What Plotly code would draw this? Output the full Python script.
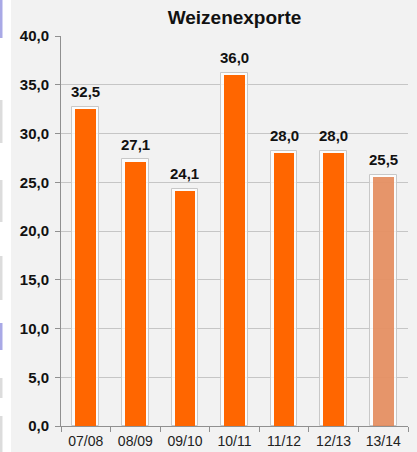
import plotly.graph_objects as go

categories = ["07/08", "08/09", "09/10", "10/11", "11/12", "12/13", "13/14"]
values = [32.5, 27.1, 24.1, 36.0, 28.0, 28.0, 25.5]
bar_colors = ["#ff6600"] * 6 + ["rgba(226,130,80,0.85)"]
y_ticks = [0, 5, 10, 15, 20, 25, 30, 35, 40]

FONT = "Liberation Sans, Arial, sans-serif"
W, H = 417, 452
ML, MR, MT, MB = 61, 9, 36, 26
plot_h = H - MT - MB
pad = 2.5 * 40 / plot_h  # outline halo in data units

fig = go.Figure()
# halo / outline behind the bars
fig.add_trace(go.Bar(
    x=categories, y=[v + pad for v in values], width=0.54,
    marker=dict(color="rgba(255,255,255,0.75)", line=dict(color="#c8c8c8", width=1)),
    hoverinfo="skip", showlegend=False,
))
fig.add_trace(go.Bar(
    x=categories, y=values, width=0.42,
    marker=dict(color=bar_colors, line=dict(width=0)),
    showlegend=False,
))

for c, v in zip(categories, values):
    fig.add_annotation(
        x=c, y=v, text=f"{v:.1f}".replace(".", ","), showarrow=False,
        yanchor="bottom", yshift=7,
        font=dict(family=FONT, size=15, color="#111", weight="bold"),
    )

shapes = [
    dict(type="rect", xref="paper", yref="paper", xsizemode="pixel", ysizemode="pixel",
         xanchor=0, yanchor=0, x0=-ML, x1=-ML + 11, y0=-MB, y1=plot_h + MT,
         fillcolor="white", line=dict(width=0), layer="above"),
]
# small cut-off artifacts at left edge (pixel rows from top)
for top, bot, col in [(0, 38, "#a9a9e6"), (100, 143, "#dcdcdc"), (180, 222, "#dcdcdc"),
                      (256, 300, "#dcdcdc"), (323, 350, "#a9a9e6"), (378, 398, "#dcdcdc"),
                      (416, 452, "#dcdcdc")]:
    shapes.append(dict(type="rect", xref="paper", yref="paper", xsizemode="pixel",
                       ysizemode="pixel", xanchor=0, yanchor=0,
                       x0=-ML, x1=-ML + 2.5, y0=(H - MB) - bot, y1=(H - MB) - top,
                       fillcolor=col, line=dict(width=0), layer="above"))

fig.update_layout(
    width=W, height=H,
    margin=dict(l=ML, r=MR, t=MT, b=MB, autoexpand=False),
    paper_bgcolor="#f2f2f2", plot_bgcolor="#f2f2f2",
    barmode="overlay",
    separators=",.",
    bargap=0,
    title=dict(text="Weizenexporte", x=(ML + (W - MR - ML) / 2) / W, xanchor="center",
               y=1 - 17 / H, yanchor="middle", automargin=False,
               font=dict(family=FONT, size=19, color="#111", weight="bold")),
    font=dict(family=FONT, color="#111"),
    shapes=shapes,
    xaxis=dict(
        type="category", showgrid=False, showline=True, linecolor="#909090", linewidth=1,
        ticks="outside", tickson="boundaries", ticklen=5, tickcolor="#909090",
        tickfont=dict(family=FONT, size=14, color="#222"), ticklabelstandoff=2,
        fixedrange=True, automargin=False,
    ),
    yaxis=dict(
        range=[0, 40], tickvals=y_ticks, tickformat=".1f",
        showgrid=True, gridcolor="#c6c6c6", gridwidth=1,
        showline=True, linecolor="#909090", linewidth=1,
        ticks="outside", ticklen=5, tickcolor="#909090",
        tickfont=dict(family=FONT, size=15, color="#111", weight="bold"),
        ticklabelstandoff=3,
        zeroline=False, fixedrange=True, automargin=False,
    ),
)

fig.write_html(
    "out.html",
    config={"displayModeBar": False},
    post_script="document.body.style.margin='0px';document.body.style.overflow='hidden';",
)
